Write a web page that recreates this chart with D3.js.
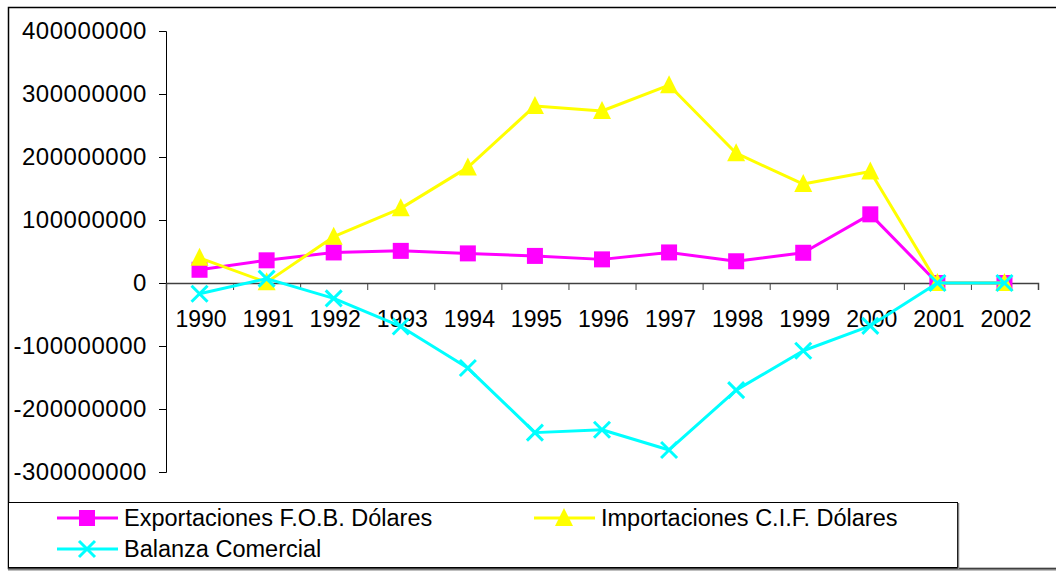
<!DOCTYPE html>
<html>
<head>
<meta charset="utf-8">
<script src="https://cdn.jsdelivr.net/npm/d3@7"></script>
<style>
  html, body { margin: 0; padding: 0; background: #fff; }
  svg { display: block; }
  text { font-family: "Liberation Sans", Arial, sans-serif; fill: #000; }
</style>
</head>
<body>
<svg id="chart" width="1056" height="572"></svg>
<script>
const years = ["1990","1991","1992","1993","1994","1995","1996","1997","1998","1999","2000","2001","2002"];
const exportaciones = [21000000, 36000000, 48500000, 51000000, 47000000, 43000000, 37500000, 48500000, 34500000, 48000000, 109000000, 0, 0];
const importaciones = [40000000, 1000000, 73500000, 118500000, 183500000, 281000000, 273000000, 314000000, 206000000, 157000000, 177000000, 0, 0];
const balanza = [-17000000, 7000000, -24500000, -69000000, -135000000, -237500000, -233000000, -265000000, -170000000, -107500000, -68000000, 0, 0];
const yTicks = [-300000000, -200000000, -100000000, 0, 100000000, 200000000, 300000000, 400000000];
const seriesNames = ["Exportaciones F.O.B. Dólares", "Importaciones C.I.F. Dólares", "Balanza Comercial"];
const seriesColors = ["#FF00FF", "#FFFF00", "#00FFFF"];
const seriesMarkers = ["square", "triangle", "x"];

const svg = d3.select("#chart");
const pLeft = 166, pRight = 1038, pTop = 31, pBottom = 472;

// outer frame
svg.append("rect").attr("x", 8.5).attr("y", 7.5).attr("width", 1060).attr("height", 561)
  .attr("fill", "#fff").attr("stroke", "#000").attr("stroke-width", 1.5);
svg.append("line").attr("x1", 8).attr("x2", 1056).attr("y1", 569.5).attr("y2", 569.5)
  .attr("stroke", "#808080").attr("stroke-width", 2);

const x = d3.scaleBand().domain(years).range([pLeft, pRight]).padding(0);
const xb = d3.scaleLinear().domain([0, years.length]).range([pLeft, pRight]);
const y = d3.scaleLinear().domain([-300000000, 400000000]).range([pBottom, pTop]);

// y axis
const yAxis = svg.append("g").attr("transform", `translate(${pLeft},0)`)
  .call(d3.axisLeft(y).tickValues(yTicks).tickSize(7).tickPadding(12).tickFormat(d => String(d)));
yAxis.select(".domain").attr("stroke", "#000").attr("stroke-width", 1);
yAxis.selectAll(".tick line").attr("stroke", "#000");
yAxis.selectAll("text").attr("font-size", 24).attr("letter-spacing", "0.55px")
  .attr("font-family", "Liberation Sans, Arial, sans-serif").attr("fill", "#000");

// x axis tick marks at band boundaries
const xTickG = svg.append("g").attr("transform", `translate(0,${y(0)})`)
  .call(d3.axisBottom(xb).tickValues(d3.range(years.length + 1)).tickSize(7).tickFormat(""));
xTickG.select(".domain").attr("stroke", "#404040").attr("stroke-width", 1.5);
xTickG.selectAll(".tick line").attr("stroke", "#404040");

// x labels
const xLab = svg.append("g").attr("transform", `translate(0,${y(0)})`)
  .call(d3.axisBottom(x).tickSize(0));
xLab.select(".domain").remove();
xLab.selectAll("text").attr("x", 1.5).attr("y", 44).attr("dy", 0).attr("font-size", 23)
  .attr("font-family", "Liberation Sans, Arial, sans-serif").attr("fill", "#000");

function drawMarker(g, type, cx, cy, color) {
  if (type === "square") {
    g.append("rect").attr("x", cx - 8).attr("y", cy - 8).attr("width", 16).attr("height", 16).attr("fill", color);
  } else if (type === "triangle") {
    g.append("path").attr("d", `M${cx},${cy - 10}L${cx + 9},${cy + 8}L${cx - 9},${cy + 8}Z`).attr("fill", color);
  } else {
    g.append("path").attr("d", `M${cx - 8},${cy - 8}L${cx + 8},${cy + 8}M${cx + 8},${cy - 8}L${cx - 8},${cy + 8}`)
      .attr("stroke", color).attr("stroke-width", 3).attr("fill", "none");
  }
}

const allSeries = [exportaciones, importaciones, balanza];
const line = d3.line().x((d, i) => x(years[i]) + x.bandwidth() / 2).y(d => y(d));
allSeries.forEach((vals, si) => {
  const g = svg.append("g");
  g.append("path").datum(vals).attr("d", line).attr("fill", "none")
    .attr("stroke", seriesColors[si]).attr("stroke-width", 3).attr("stroke-linejoin", "round");
  vals.forEach((v, i) => drawMarker(g, seriesMarkers[si], x(years[i]) + x.bandwidth() / 2, y(v), seriesColors[si]));
});

// legend
const lg = svg.append("g");
lg.append("rect").attr("x", 8.5).attr("y", 502.5).attr("width", 949).attr("height", 65)
  .attr("fill", "#fff").attr("stroke", "#000").attr("stroke-width", 1);
lg.append("line").attr("x1", 958.5).attr("x2", 958.5).attr("y1", 503).attr("y2", 569).attr("stroke", "#808080").attr("stroke-width", 1.5);
const legPos = [[57, 518], [534, 518], [57, 549]];
seriesNames.forEach((name, si) => {
  const [lx, ly] = legPos[si];
  lg.append("line").attr("x1", lx).attr("x2", lx + 61).attr("y1", ly).attr("y2", ly)
    .attr("stroke", seriesColors[si]).attr("stroke-width", 3);
  drawMarker(lg, seriesMarkers[si], lx + 30, ly, seriesColors[si]);
  lg.append("text").attr("x", lx + 67).attr("y", ly + 8).attr("font-size", 23.5).text(name);
});
</script>
</body>
</html>
